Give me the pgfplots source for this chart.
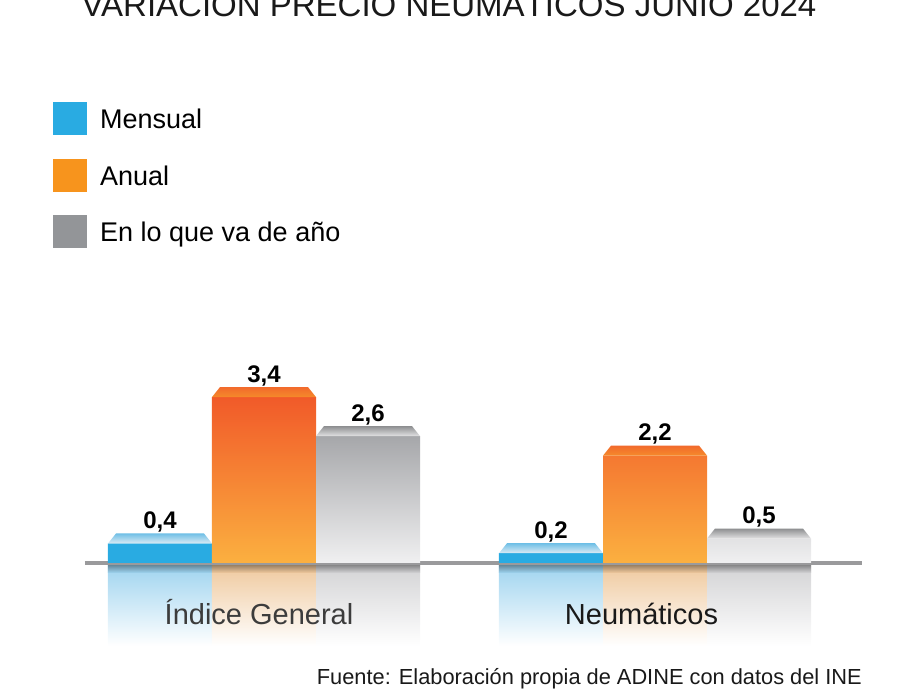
\documentclass[border=0pt]{standalone}
\usepackage{pgfplots}
\pgfplotsset{compat=1.18}
\usepackage{fontspec}
\setmainfont{Liberation Sans}
\definecolor{cblue}{HTML}{29ABE2}
\definecolor{corT}{HTML}{F15A29}
\definecolor{corB}{HTML}{FBB040}
\definecolor{cgrT}{HTML}{A6A7AA}
\definecolor{cgrB}{HTML}{F0F0F1}
\definecolor{legor}{HTML}{F7941D}
\definecolor{leggr}{HTML}{939598}
\definecolor{bevBt}{HTML}{6FBFE6}
\definecolor{bevBb}{HTML}{DCEBF4}
\definecolor{bevOt}{HTML}{F26A2C}
\definecolor{bevOb}{HTML}{F58A2A}
\definecolor{bevGt}{HTML}{8E8F91}
\definecolor{bevGb}{HTML}{E2E2E3}
\definecolor{refB}{HTML}{9DD3EF}
\definecolor{refO}{HTML}{EFC89C}
\definecolor{refG}{HTML}{D2D2D4}
\definecolor{basegray}{HTML}{9A9A9C}
\definecolor{labgray}{HTML}{3C3C3C}
\pgfdeclareplotmark{bevelB}{\shade[draw=none,top color=bevBt,bottom color=bevBb] (-52pt,0pt) -- (52pt,0pt) -- (44pt,10pt) -- (-44pt,10pt) -- cycle;}
\pgfdeclareplotmark{bevelO}{\shade[draw=none,top color=bevOt,bottom color=bevOb] (-52pt,0pt) -- (52pt,0pt) -- (44pt,10pt) -- (-44pt,10pt) -- cycle;}
\pgfdeclareplotmark{bevelG}{\shade[draw=none,top color=bevGt,bottom color=bevGb] (-52pt,0pt) -- (52pt,0pt) -- (44pt,10pt) -- (-44pt,10pt) -- cycle;}
\newcommand\legsq[1]{\pgfpathrectangle{\pgfpoint{0pt}{0pt}}{\pgfpoint{34pt}{26pt}}\pgfusepath{use as bounding box}\pgfsetfillcolor{#1}\pgfpathrectangle{\pgfpoint{0pt}{-7pt}}{\pgfpoint{34pt}{33pt}}\pgfusepath{fill}}
\begin{document}
\begin{tikzpicture}
\path[use as bounding box] (0pt,0pt) rectangle (900pt,700pt);
\node[anchor=base, font=\fontsize{33}{33}\selectfont, text=black!90] at (449pt,683pt) {VARIACIÓN PRECIO NEUMÁTICOS JUNIO 2024};
\node[anchor=base east, inner sep=0pt, font=\fontsize{21.8}{22}\selectfont, text=black!90] at (862pt,15pt) {Fuente: Elaboración propia de ADINE con datos del INE};
\begin{axis}[
  at={(264pt,137pt)}, anchor=origin,
  x=391pt, y=48.8pt,
  xmin=-0.458, xmax=1.529, ymin=-1.7, ymax=4,
  clip=false, axis on top,
  axis line style={draw=none}, tick style={draw=none},
  ytick=\empty, xtick={0,1},
  xticklabels={{\textcolor{labgray}{Índice General\hspace*{10pt}}},{\textcolor{black!90}{Neumáticos\hspace*{27pt}}}},
  xticklabel style={anchor=base, font=\fontsize{29}{29}\selectfont, inner sep=0pt, yshift=21pt},
  bar width=0.266,
  /pgf/number format/use comma,
  /pgf/number format/fixed,
  /pgf/number format/fixed zerofill,
  /pgf/number format/precision=1,
  /pgf/number format/assume math mode=true,
  legend style={at={(axis description cs:-0.045,1.963)}, anchor=north west,
    draw=none, fill=none, font=\fontsize{27}{27}\selectfont,
    nodes={inner sep=0pt, text height=20pt, text depth=7pt},
    row sep=17pt, column sep=13pt},
  legend cell align=left,
]
% reflections
\addplot[ybar, bar shift=-0.266, draw=none, top color=refB, bottom color=white, forget plot] coordinates {(0,-1.7) (1,-1.7)};
\addplot[ybar, bar shift=0, draw=none, top color=refO, bottom color=white, forget plot] coordinates {(0,-1.7) (1,-1.7)};
\addplot[ybar, bar shift=0.266, draw=none, top color=refG, bottom color=white, forget plot] coordinates {(0,-1.7) (1,-1.7)};
% soft shadows under bars
\addplot[ybar, bar shift=-0.266, draw=none, top color=refB!55!black, bottom color=refB, forget plot] coordinates {(0,-0.2) (1,-0.2)};
\addplot[ybar, bar shift=0, draw=none, top color=refO!55!black, bottom color=refO, forget plot] coordinates {(0,-0.2) (1,-0.2)};
\addplot[ybar, bar shift=0.266, draw=none, top color=refG!55!black, bottom color=refG, forget plot] coordinates {(0,-0.2) (1,-0.2)};
% baseline
\addplot[sharp plot, no marks, basegray, line width=4pt, forget plot] coordinates {(-0.458,0) (1.529,0)};
% bars
\addplot[ybar, bar shift=-0.266, draw=none, fill=cblue,
  nodes near coords, nodes near coords style={font=\bfseries\fontsize{24}{24}\selectfont, anchor=base, yshift=15pt, xshift=-104pt, text=black},
  legend image code/.code={\legsq{cblue}}]
  coordinates {(0,0.4) (1,0.2)};
\addlegendentry{\raisebox{6pt}{Mensual}}
\addplot[ybar, bar shift=0, draw=none, top color=corT, bottom color=corB,
  nodes near coords, nodes near coords style={font=\bfseries\fontsize{24}{24}\selectfont, anchor=base, yshift=15pt, text=black},
  legend image code/.code={\legsq{legor}}]
  coordinates {(0,3.4) (1,2.2)};
\addlegendentry{\raisebox{6pt}{Anual}}
\addplot[ybar, bar shift=0.266, draw=none, top color=cgrT, bottom color=cgrB,
  nodes near coords, nodes near coords style={font=\bfseries\fontsize{24}{24}\selectfont, anchor=base, yshift=15pt, xshift=104pt, text=black},
  legend image code/.code={\legsq{leggr}}]
  coordinates {(0,2.6) (1,0.5)};
\addlegendentry{\raisebox{6pt}{En lo que va de año}}
% bevel tops
\addplot[only marks, mark=bevelB, forget plot] coordinates {(-0.266,0.4) (0.734,0.2)};
\addplot[only marks, mark=bevelO, forget plot] coordinates {(0,3.4) (1,2.2)};
\addplot[only marks, mark=bevelG, forget plot] coordinates {(0.266,2.6) (1.266,0.5)};
\end{axis}
\end{tikzpicture}
\end{document}
